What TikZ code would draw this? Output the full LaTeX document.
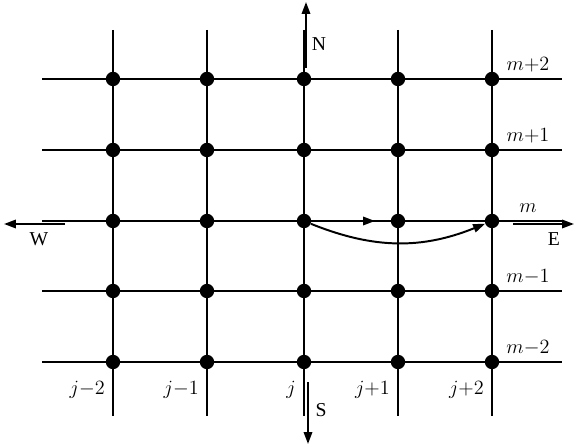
\documentclass[tikz,border=0pt]{standalone}
\usepackage{fontspec}
\setmainfont{Liberation Serif}
\usepackage{tikz}
\usetikzlibrary{arrows.meta, calc}
\tikzset{
  gline/.style = {line width=1.4pt},
  dot/.style   = {circle, fill=black, inner sep=0pt, minimum size=0.36cm},
  axarr/.style = {gline, -{Triangle[length=8.5pt, width=6pt]}},
  lbl/.style   = {font=\fontsize{14}{16}\selectfont, inner sep=0pt},
}

\begin{document}
\begin{tikzpicture}[x=0.025cm, y=-0.025cm]
  \useasboundingbox (0,0) rectangle (575,446);
  % grid lines
  \foreach \c/\x in {1/113, 2/207, 3/304, 4/398, 5/492} {
    \coordinate (top-\c) at (\x,30);
    \coordinate (bot-\c) at (\x,416);
    \draw[gline] (top-\c) -- (bot-\c);
  }
  \foreach \r/\y in {1/362, 2/291, 3/221, 4/150, 5/79} {
    \coordinate (lft-\r) at (42,\y);
    \coordinate (rgt-\r) at (562,\y);
    \draw[gline] (lft-\r) -- (rgt-\r);
  }
  % grid points
  \foreach \c in {1,...,5}
    \foreach \r in {1,...,5}
      \node[dot] (g-\c-\r) at (top-\c |- lft-\r) {};
  % axes
  \coordinate (n0) at (306,68);  \coordinate (n1) at (306,2);
  \coordinate (s0) at (308,382); \coordinate (s1) at (308,444);
  \coordinate (w0) at (65,224);  \coordinate (w1) at (4,224);
  \coordinate (e0) at (513,224); \coordinate (e1) at (574,224);
  \draw[axarr] (n0) -- (n1);
  \draw[axarr] (s0) -- (s1);
  \draw[axarr] (w0) -- (w1);
  \draw[axarr] (e0) -- (e1);
  \node[lbl] (lN) at (319,44)  {N};
  \node[lbl] (lS) at (321,410) {S};
  \node[lbl] (lW) at (39,239)  {W};
  \node[lbl] (lE) at (554,239) {E};
  % steps along row m
  \coordinate (mid) at (375,221);
  \draw[axarr] (g-3-3) -- (mid);
  \draw[axarr] (g-3-3) to[bend right=22] (g-5-3);
  % indices
  \foreach \c/\lb in {1/{j{-}2}, 2/{j{-}1}, 3/{j}, 4/{j{+}1}, 5/{j{+}2}}
    \node[lbl, anchor=base east] (col-\c) at ($(g-\c-1)+(-8,33)$) {$\lb$};
  \foreach \r/\lb in {1/{m{-}2}, 2/{m{-}1}, 3/{m}, 4/{m{+}1}, 5/{m{+}2}}
    \node[lbl, anchor=base] (row-\r) at ($(g-5-\r)+(36,-8)$) {$\lb$};
\end{tikzpicture}
\end{document}
